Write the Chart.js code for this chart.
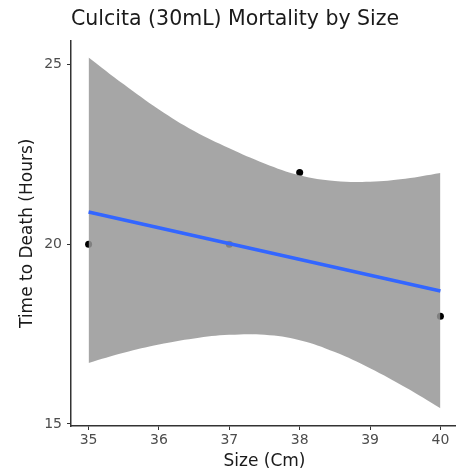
<!DOCTYPE html>
<html>
<head>
<meta charset="utf-8">
<script src="https://cdn.jsdelivr.net/npm/chart.js@4"></script>
<style>
  html, body { margin: 0; padding: 0; background: #fff; overflow: hidden; }
  #wrap { width: 470px; height: 472px; }
</style>
</head>
<body>
<div id="wrap"><canvas id="chart" width="470" height="472"></canvas></div>
<script>
// observed points
const sizes = [35, 37, 38, 40];
const hours = [20, 20, 22, 18];

// confidence band
const bandX = [35, 35.5, 36, 36.5, 37, 37.5, 38, 38.5, 39, 39.5, 40];
const bandUpper = [25.2, 24.45, 23.75, 23.15, 22.67, 22.25, 21.92, 21.76, 21.74, 21.82, 21.98];
const bandLower = [16.7, 16.98, 17.21, 17.38, 17.48, 17.48, 17.33, 17.0, 16.55, 16.02, 15.44];

// fitted line
const fitX = [35, 40];
const fitY = [20.9, 18.7];

const xTicks = [35, 36, 37, 38, 39, 40];
const yTicks = [15, 20, 25];

const FONT = "'DejaVu Sans', sans-serif";

function pts(xs, ys) {
    return xs.map((x, i) => ({ x: x, y: ys[i] }));
}

const ctx = document.getElementById('chart').getContext('2d');

new Chart(ctx, {
    type: 'scatter',
    data: {
        datasets: [
            {
                label: 'lower',
                type: 'line',
                data: pts(bandX, bandLower),
                borderWidth: 0,
                pointRadius: 0,
                tension: 0.4,
                fill: false,
                order: 3
            },
            {
                label: 'upper',
                type: 'line',
                data: pts(bandX, bandUpper),
                borderWidth: 0,
                pointRadius: 0,
                tension: 0.4,
                backgroundColor: 'rgba(150, 150, 150, 0.85)',
                fill: '-1',
                order: 2
            },
            {
                label: 'points',
                data: pts(sizes, hours),
                backgroundColor: '#000',
                borderWidth: 0,
                pointRadius: 3.5,
                order: 4
            },
            {
                label: 'fit',
                type: 'line',
                data: pts(fitX, fitY),
                borderColor: '#3366FF',
                borderWidth: 3.5,
                pointRadius: 0,
                fill: false,
                order: 1
            }
        ]
    },
    options: {
        responsive: false,
        animation: false,
        layout: { padding: { left: 0, right: 12, top: 0, bottom: 0 } },
        plugins: {
            legend: { display: false },
            tooltip: { enabled: false },
            title: {
                display: true,
                text: 'Culcita (30mL) Mortality by Size',
                align: 'start',
                fullSize: false,
                color: '#1a1a1a',
                font: { family: FONT, size: 20.5, weight: 'normal' },
                padding: { top: 7, bottom: 9 }
            }
        },
        scales: {
            x: {
                type: 'linear',
                min: 34.75,
                max: 40.25,
                afterBuildTicks: s => { s.ticks = xTicks.map(v => ({ value: v })); },
                afterFit: s => { s.height = 46; },
                grid: { drawOnChartArea: false, drawTicks: true, tickLength: 4, tickColor: '#333', tickWidth: 1 },
                border: { display: true, color: '#333', width: 1.5 },
                ticks: { color: '#4d4d4d', font: { family: FONT, size: 14 }, padding: 2, maxRotation: 0 },
                title: {
                    display: true,
                    text: 'Size (Cm)',
                    color: '#1a1a1a',
                    font: { family: FONT, size: 17 },
                    padding: { top: 0, bottom: 0 }
                }
            },
            y: {
                type: 'linear',
                min: 14.944,
                max: 25.667,
                afterBuildTicks: s => { s.ticks = yTicks.map(v => ({ value: v })); },
                afterFit: s => { s.width = 71; },
                grid: { drawOnChartArea: false, drawTicks: true, tickLength: 4, tickColor: '#333', tickWidth: 1 },
                border: { display: true, color: '#333', width: 1.5 },
                ticks: { color: '#4d4d4d', font: { family: FONT, size: 14 }, padding: 5 },
                title: {
                    display: true,
                    text: 'Time to Death (Hours)',
                    color: '#1a1a1a',
                    font: { family: FONT, size: 17 },
                    padding: { top: 17, bottom: 0 }
                }
            }
        }
    }
});
</script>
</body>
</html>
